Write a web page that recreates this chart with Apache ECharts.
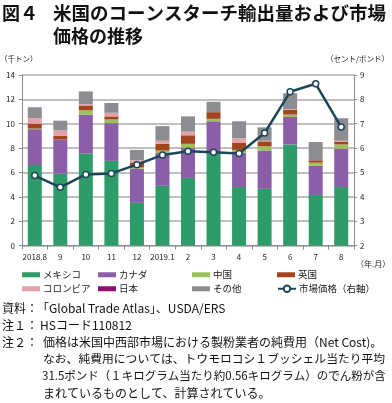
<!DOCTYPE html>
<html><head><meta charset="utf-8">
<script src="https://cdn.jsdelivr.net/npm/echarts@6/dist/echarts.min.js"></script>
<style>html,body{margin:0;padding:0;background:#fff}#c{width:392px;height:403px}</style>
</head><body><div id="c"></div>
<script>
const months = ['2018.8','9','10','11','12','2019.1','2','3','4','5','6','7','8'];
const mexico   = [6.6, 5.9, 7.55, 6.95, 3.5, 4.9, 5.55, 7.6, 4.8, 4.65, 8.3, 4.15, 4.8];
const canada   = [2.95, 2.8, 3.2, 3.1, 2.8, 2.7, 2.45, 2.6, 2.8, 3.15, 2.25, 2.4, 3.15];
const china    = [0.05, 0.0, 0.35, 0.3, 0.1, 0.2, 0.35, 0.2, 0.25, 0.35, 0.2, 0.25, 0.35];
const uk       = [0.4, 0.3, 0.4, 0.25, 0.4, 0.55, 0.7, 0.55, 0.6, 0.4, 0.4, 0.2, 0.2];
const colombia = [0.45, 0.45, 0.1, 0.3, 0.2, 0.25, 0.3, 0.0, 0.35, 0.05, 0.05, 0.0, 0.1];
const japan    = [0, 0, 0, 0, 0, 0, 0, 0, 0, 0, 0, 0, 0];
const other    = [0.9, 0.8, 1.05, 0.8, 0.85, 1.2, 1.25, 0.85, 1.4, 1.1, 1.3, 1.5, 1.85];
const price    = [4.87, 4.39, 4.92, 4.96, 5.32, 5.72, 5.87, 5.83, 5.78, 6.62, 8.31, 8.64, 6.86];
const leftTicks = [0, 14, 2];
const rightTicks = [2, 9, 1];

const FONT = "'Noto Sans CJK JP', 'Noto Sans', sans-serif";
const names = ['メキシコ','カナダ','中国','英国','コロンビア','日本','その他','市場価格（右軸）'];
const colors = ['#2e9c69','#8a5fa8','#9cc15a','#a2451f','#e5a0aa','#8e0f70','#8b8d90','#1d4659'];
const barData = [mexico, canada, china, uk, colombia, japan, other];

const chart = echarts.init(document.getElementById('c'), null, {renderer:'canvas'});

const series = barData.map((d,i)=>({
  name: names[i], type:'bar', stack:'t', data:d, barWidth:14,
  itemStyle:{color:colors[i]}, yAxisIndex:0
}));
series.push({
  name: names[7], type:'line', data:price, yAxisIndex:1,
  lineStyle:{color:colors[7], width:2.5}, itemStyle:{color:'#fff', borderColor:colors[7], borderWidth:1.5},
  symbol:'circle', symbolSize:6, z:10
});

const legPos = [[22,270],[98,270],[192,270],[277,270],[22,284],[98,284],[192,284],[277,284]];
const legends = names.map((n,i)=>({
  data:[n], left:legPos[i][0], top:legPos[i][1], itemWidth:18, itemHeight: i===7?8:5,
  itemGap:0, padding:0, icon: i===7? undefined : 'rect',
  textStyle:{fontSize:9.5, color:'#222', fontFamily:FONT, padding:[0,0,0,-2]}
}));

const t = (x,y,text,opt={}) => ({type:'text', left:x, top:y, style:Object.assign({text, fontSize:12, fill:'#111', fontFamily:FONT}, opt)});

chart.setOption({
  animation:false,
  grid:{left:22, right:38, top:75, bottom:157.5},
  legend: legends,
  xAxis:{type:'category', data:months, boundaryGap:true,
    axisLine:{lineStyle:{color:'#8c8c8c', width:1}},
    axisTick:{show:true, alignWithLabel:false, length:4, lineStyle:{color:'#8c8c8c'}},
    axisLabel:{fontSize:8, color:'#222', margin:7, fontFamily:FONT, interval:0}},
  yAxis:[
    {type:'value', min:leftTicks[0], max:leftTicks[1], interval:leftTicks[2],
     axisLine:{show:true, lineStyle:{color:'#8c8c8c'}}, axisTick:{show:true, length:3, lineStyle:{color:'#8c8c8c'}},
     splitLine:{lineStyle:{color:'#aaaaaa', width:1.5}},
     axisLabel:{fontSize:8, color:'#222', margin:7, fontFamily:FONT}},
    {type:'value', min:rightTicks[0], max:rightTicks[1], interval:rightTicks[2], position:'right',
     axisLine:{show:true, lineStyle:{color:'#8c8c8c'}}, axisTick:{show:true, length:3, lineStyle:{color:'#8c8c8c'}},
     splitLine:{show:false},
     axisLabel:{fontSize:8, color:'#222', margin:6, fontFamily:FONT}}
  ],
  series,
  graphic:[
    t(2,4,'図４',{fontSize:18, fontWeight:'bold'}),
    t(53,4,'米国のコーンスターチ輸出量および市場',{fontSize:18.5, fontWeight:'bold'}),
    t(53,27,'価格の推移',{fontSize:18, fontWeight:'bold'}),
    t(0,55,'（千トン）',{fontSize:7.5, fill:'#222'}),
    {type:'text', right:3, top:55, style:{text:'（セント/ポンド）', fontSize:7.5, fill:'#222', fontFamily:FONT}},
    t(356,260,'（年.月）',{fontSize:8, fill:'#222'}),
    t(2,302,'資料：'), t(37,302,'「Global Trade Atlas」、USDA/ERS'),
    t(2,319,'注１：'), t(40,319,'HSコード110812'),
    t(2,336,'注２：'), t(43,336,'価格は米国中西部市場における製粉業者の純費用（Net Cost)。'),
    t(43,353,'なお、純費用については、トウモロコシ１ブッシェル当たり平均',{fontSize:11.8}),
    t(42,370,'31.5ポンド（１キログラム当たり約0.56キログラム）のでん粉が含',{fontSize:11.5}),
    t(43,387,'まれているものとして、計算されている。')
  ]
});
</script></body></html>
